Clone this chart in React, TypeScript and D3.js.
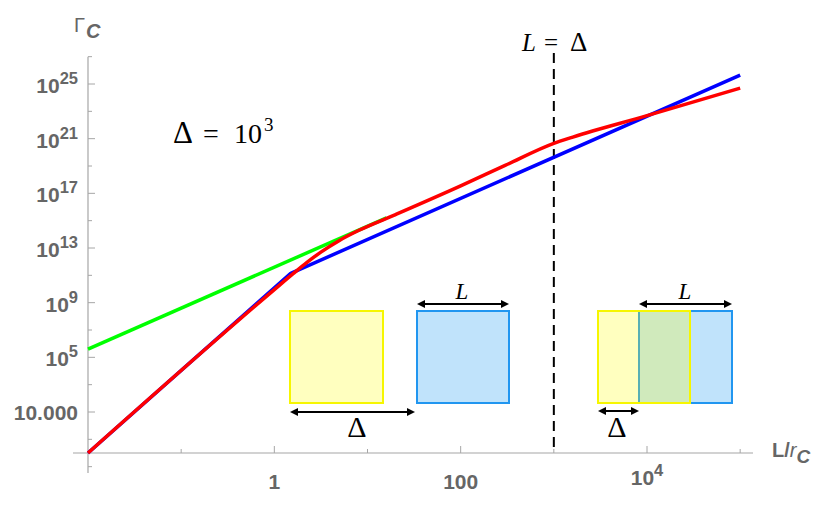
import React from "react";
import * as d3 from "d3";

// curves (L/r_C, Gamma_C)
const greenL = [0.01, 16];
const greenG = [4e5, 1.6e15];

const blueL = [0.01, 1.5, 1e5];
const blueG = [1e-2, 1.4e11, 4.5e25];

const redL = [0.01, 1, 1.58, 2.24, 3.16, 5, 8, 20, 100, 300, 1000, 1600, 1e4, 1e5];
const redG = [1e-2, 9e9, 1.26e11, 8.9e11, 5e12, 3.6e13, 1.9e14, 2.8e15, 3.5e17, 1.1e19, 4.5e20, 1.3e21, 4.8e22, 5e24];

const yMajor = [1e1, 1e5, 1e9, 1e13, 1e17, 1e21, 1e25];
const yMajorLabels = ["10.000", "10^5", "10^9", "10^13", "10^17", "10^21", "10^25"];
const yMinor = [1e-3, 1e-1, 1e3, 1e7, 1e11, 1e15, 1e19, 1e23, 1e27];

const xMajor = [1, 100, 1e4];
const xMajorLabels = ["1", "100", "10^4"];
const xMinor = [0.1, 10, 1e3, 1e5];

const deltaValue = 1e3;

const W = 831;
const H = 506;
const x = d3.scaleLog().domain([1e-2, 1e4]).range([88, 647]);
const y = d3.scaleLog().domain([1e-2, 1e25]).range([453, 84]);

const axisColor = "#a6a6a6";
const labelColor = "#666";
const sans = "'Liberation Sans', Arial, sans-serif";
const serif = "'Liberation Serif', 'Times New Roman', serif";

const toPts = (xs: number[], ys: number[]) => xs.map((v, i) => [v, ys[i]] as [number, number]);

const linear = d3.line<[number, number]>().x((d) => x(d[0])).y((d) => y(d[1]));
const smooth = d3
  .line<[number, number]>()
  .x((d) => x(d[0]))
  .y((d) => y(d[1]))
  .curve(d3.curveMonotoneX);

function PowLabel({ label, px, py, anchor, supShift }: any) {
  const [base, exp] = label.split("^");
  return (
    <text x={px} y={py} textAnchor={anchor} fontFamily={sans} fontWeight="bold" fontSize={21} fill={labelColor}>
      {base}
      {exp && (
        <tspan dy={-supShift} fontSize={16.5}>
          {exp}
        </tspan>
      )}
    </text>
  );
}

function Arrow({ x1, x2, yy }: { x1: number; x2: number; yy: number }) {
  const h = 8;
  const w = 4;
  return (
    <g>
      <line x1={x1 + 4} x2={x2 - 4} y1={yy} y2={yy} stroke="#000" strokeWidth={2} />
      <polygon points={`${x1},${yy} ${x1 + h},${yy - w} ${x1 + h},${yy + w}`} fill="#000" />
      <polygon points={`${x2},${yy} ${x2 - h},${yy - w} ${x2 - h},${yy + w}`} fill="#000" />
    </g>
  );
}

const yellowStroke = "#f6f600";
const yellowFill = "rgba(255,255,0,0.25)";
const blueStroke = "#2196f0";
const blueFill = "#c0e3fb";

export default function App() {
  const xDash = x(deltaValue);
  return (
    <svg width={W} height={H} style={{ position: "absolute", left: 0, top: 0, background: "#fff" }}>
      {/* axes */}
      <line x1={88} x2={88} y1={y(1e27)} y2={473} stroke={axisColor} strokeWidth={1.2} />
      <line x1={73} x2={753} y1={453} y2={453} stroke={axisColor} strokeWidth={1.2} />
      {yMajor.map((v) => (
        <line key={"ym" + v} x1={88} x2={95} y1={y(v)} y2={y(v)} stroke={axisColor} strokeWidth={1} />
      ))}
      {yMinor.map((v) => (
        <line key={"yn" + v} x1={88} x2={92} y1={y(v)} y2={y(v)} stroke={axisColor} strokeWidth={1} />
      ))}
      {xMajor.map((v) => (
        <line key={"xm" + v} x1={x(v)} x2={x(v)} y1={453} y2={446} stroke={axisColor} strokeWidth={1} />
      ))}
      {xMinor.map((v) => (
        <line key={"xn" + v} x1={x(v)} x2={x(v)} y1={453} y2={449} stroke={axisColor} strokeWidth={1} />
      ))}
      {yMajor.map((v, i) => (
        <PowLabel
          key={"yl" + v}
          label={yMajorLabels[i]}
          px={78}
          py={y(v) + (yMajorLabels[i].includes("^") ? 9 : 7.5)}
          anchor="end"
          supShift={9}
        />
      ))}
      {xMajor.map((v, i) => (
        <PowLabel
          key={"xl" + v}
          label={xMajorLabels[i]}
          px={x(v)}
          py={xMajorLabels[i].includes("^") ? 485 : 489}
          anchor="middle"
          supShift={9}
        />
      ))}

      {/* axis titles */}
      <text x={74} y={32} fontFamily={sans} fontSize={20} fill={labelColor}>
        Γ
      </text>
      <text x={86} y={38} fontFamily={sans} fontSize={20} fontStyle="italic" fontWeight="bold" fill={labelColor}>
        C
      </text>
      <text x={772} y={457} fontFamily={sans} fontSize={20} fill={labelColor}>
        <tspan fontWeight="bold">L/</tspan>
        <tspan fontStyle="italic">r</tspan>
        <tspan fontStyle="italic" fontWeight="bold" dy={6} fontSize={19}>
          C
        </tspan>
      </text>

      {/* dashed L = Delta */}
      <line x1={xDash} x2={xDash} y1={53} y2={453} stroke="#000" strokeWidth={2} strokeDasharray="10,6" />
      <text y={51} fontFamily={serif} fontSize={25} fill="#000">
        <tspan x={522} fontStyle="italic">L</tspan>
        <tspan x={544}>=</tspan>
        <tspan x={570} fontSize={27}>Δ</tspan>
      </text>

      {/* Delta = 10^3 */}
      <text y={143} fontFamily={serif} fontSize={28} fill="#000">
        <tspan x={173} fontSize={31}>Δ</tspan>
        <tspan x={203}>=</tspan>
        <tspan x={234}>10</tspan>
        <tspan x={264} y={131} fontSize={19}>3</tspan>
      </text>

      {/* insets */}
      <rect x={290} y={311} width={93} height={92} fill={yellowFill} stroke={yellowStroke} strokeWidth={2} />
      <rect x={417} y={311} width={92} height={92} fill={blueFill} stroke={blueStroke} strokeWidth={2} />
      <Arrow x1={417} x2={509} yy={304} />
      <Arrow x1={290} x2={415} yy={412} />
      <text x={462} y={299} textAnchor="middle" fontFamily={serif} fontStyle="italic" fontSize={23}>L</text>
      <text x={357} y={437} textAnchor="middle" fontFamily={serif} fontSize={30}>Δ</text>

      <rect x={639} y={311} width={93} height={92} fill={blueFill} stroke={blueStroke} strokeWidth={2} />
      <rect x={598} y={311} width={92} height={92} fill={yellowFill} stroke={yellowStroke} strokeWidth={2} />
      <Arrow x1={639} x2={732} yy={304} />
      <Arrow x1={598} x2={639} yy={411} />
      <text x={685} y={299} textAnchor="middle" fontFamily={serif} fontStyle="italic" fontSize={23}>L</text>
      <text x={617} y={437} textAnchor="middle" fontFamily={serif} fontSize={30}>Δ</text>

      {/* curves */}
      <path d={linear(toPts(greenL, greenG)) || ""} fill="none" stroke="#00ff00" strokeWidth={3.5} />
      <path d={linear(toPts(blueL, blueG)) || ""} fill="none" stroke="#0000ff" strokeWidth={3.5} strokeLinejoin="round" />
      <path d={smooth(toPts(redL, redG)) || ""} fill="none" stroke="#ff0000" strokeWidth={3.5} strokeLinejoin="round" />
    </svg>
  );
}
